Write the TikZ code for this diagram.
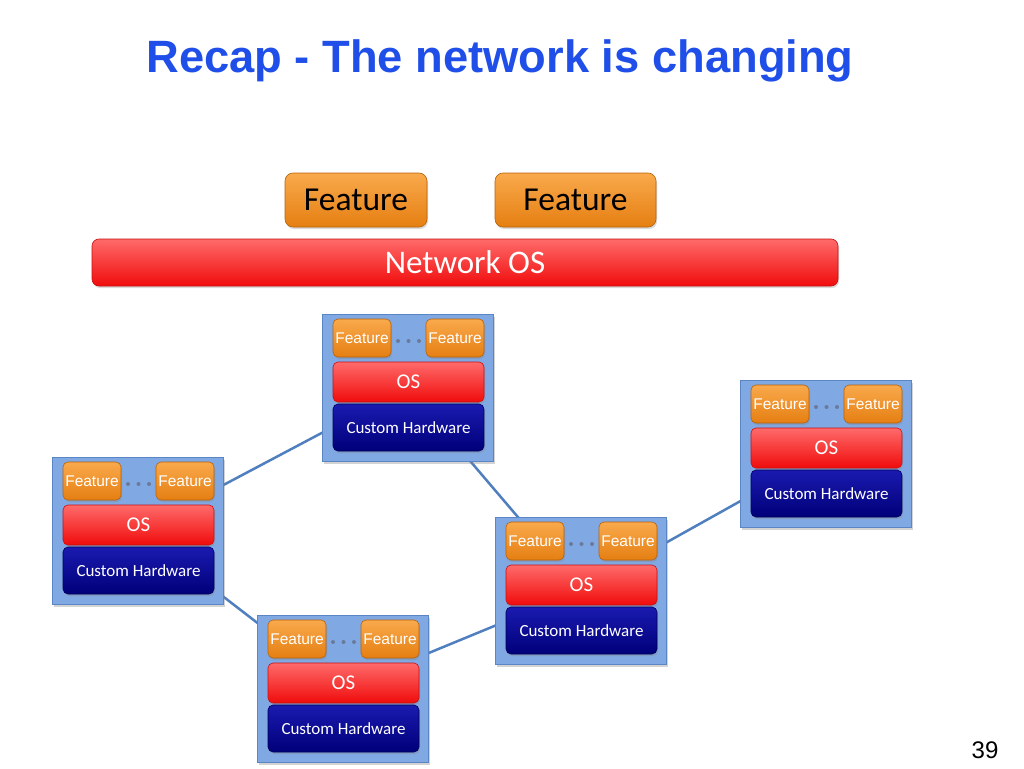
\documentclass[tikz,border=0pt]{standalone}
\usepackage{fontspec}
\setmainfont{Carlito}
\newfontfamily\arial{Liberation Sans}
\usetikzlibrary{shadows}
\pgfdeclarelayer{background}
\pgfsetlayers{background,main}
\definecolor{titleblue}{HTML}{1F4FE8}
\definecolor{framefill}{HTML}{80A8E2}
\definecolor{frameedge}{HTML}{5A86C6}
\definecolor{linkblue}{HTML}{4F7FBF}
\definecolor{orangetop}{HTML}{F9A94C}
\definecolor{orangebot}{HTML}{E57F12}
\definecolor{orangeedge}{HTML}{B8620A}
\definecolor{redtop}{HTML}{FF6A6A}
\definecolor{redbot}{HTML}{F00C0C}
\definecolor{rededge}{HTML}{C81010}
\definecolor{navytop}{HTML}{1A1AB0}
\definecolor{navybot}{HTML}{00007A}
\definecolor{navyedge}{HTML}{00005A}
\definecolor{dotcol}{HTML}{6A7A9C}
\tikzset{
  x=1pt,y=-1pt,
  every node/.style={inner sep=0pt,outer sep=0pt},
  frame/.style={anchor=north west,minimum width=171pt,minimum height=147pt,
    fill=framefill,draw=frameedge,line width=0.8pt,
    drop shadow={shadow xshift=2pt,shadow yshift=-3pt,opacity=0.35}},
  featbox/.style={anchor=north west,rounded corners=5pt,draw=orangeedge,line width=0.6pt,
    top color=orangetop,bottom color=orangebot,text=white,font=\arial\fontsize{15.5}{15.5}\selectfont,
    drop shadow={shadow xshift=1pt,shadow yshift=-2pt,opacity=0.3}},
  bigfeat/.style={featbox,font=\fontsize{33.5}{33.5}\selectfont,text=black,rounded corners=8pt},
  osbox/.style={anchor=north west,rounded corners=5pt,draw=rededge,line width=0.6pt,
    top color=redtop,bottom color=redbot,text=white,font=\fontsize{21}{21}\selectfont,
    drop shadow={shadow xshift=1pt,shadow yshift=-2pt,opacity=0.3}},
  hwbox/.style={anchor=north west,rounded corners=5pt,draw=navyedge,line width=0.6pt,
    top color=navytop,bottom color=navybot,text=white,font=\fontsize{17}{17}\selectfont,
    drop shadow={shadow xshift=1pt,shadow yshift=-2pt,opacity=0.3}},
  link/.style={draw=linkblue,line width=2.5pt}
}
\newcommand{\switchbox}[3]{%
  \node[frame] (#1) at (#2,#3) {};
  \node[featbox,minimum width=58pt,minimum height=38pt] (#1-f1) at ({#2+11},{#3+5}) {Feature};
  \node[featbox,minimum width=58pt,minimum height=38pt] (#1-f2) at ({#2+104},{#3+5}) {Feature};
  \fill[dotcol] ({#2+76},{#3+27}) circle (2pt) ({#2+86.5},{#3+27}) circle (2pt) ({#2+97},{#3+27}) circle (2pt);
  \node[osbox,minimum width=151pt,minimum height=40pt] (#1-os) at ({#2+11},{#3+48}) {OS};
  \node[hwbox,minimum width=151pt,minimum height=47pt] (#1-hw) at ({#2+11},{#3+90}) {Custom Hardware};
}
\begin{document}
\begin{tikzpicture}
\useasboundingbox (0,0) rectangle (1024,768);
\node[font=\arial\bfseries\fontsize{45.3}{45.3}\selectfont,text=titleblue] (title) at (500,61) {Recap - The network is changing};
\node[bigfeat,minimum width=142pt,minimum height=54pt] (tf1) at (285,173) {Feature};
\node[bigfeat,minimum width=161pt,minimum height=54pt] (tf2) at (495,173) {Feature};
\node[osbox,rounded corners=7pt,minimum width=746pt,minimum height=47pt,font=\fontsize{33}{33}\selectfont] (nos) at (92,239) {Network OS};
\switchbox{A}{322}{314}
\switchbox{B}{52}{457}
\switchbox{C}{257}{615}
\switchbox{D}{495}{517}
\switchbox{E}{740}{380}
\begin{pgfonlayer}{background}
\draw[link] (A.center) -- (B.center);
\draw[link] (A.center) -- (D.center);
\draw[link] (B.center) -- (C.center);
\draw[link] (C.center) -- (D.center);
\draw[link] (D.center) -- (E.center);
\end{pgfonlayer}
\node[font=\arial\fontsize{24}{24}\selectfont] (pnum) at (985,750) {39};
\end{tikzpicture}
\end{document}
